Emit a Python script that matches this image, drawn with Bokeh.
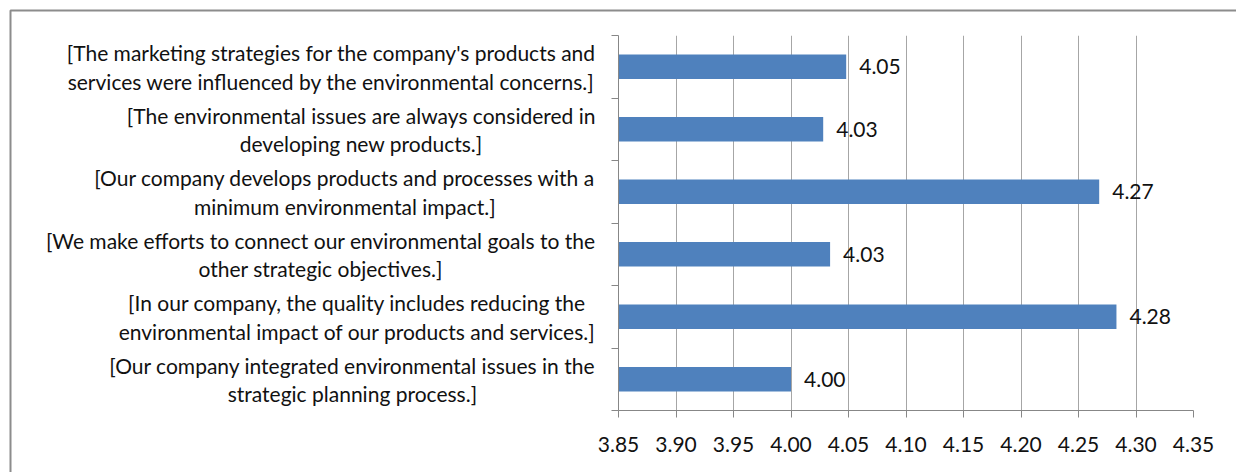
from bokeh.plotting import figure
from bokeh.models import Range1d, FixedTicker, ColumnDataSource, NumeralTickFormatter
from bokeh.core.properties import value
from bokeh.embed import file_html
from bokeh.resources import INLINE

# categories listed from top to bottom
categories = [
    "[The marketing strategies for the company's products and\nservices were influenced by the environmental concerns.]",
    "[The environmental issues are always considered in\ndeveloping new products.]",
    "[Our company develops products and processes with a\nminimum environmental impact.]",
    "[We make efforts to connect our environmental goals to the\nother strategic objectives.]",
    "[In our company, the quality includes reducing the\nenvironmental impact of our products and services.]",
    "[Our company integrated environmental issues in the\nstrategic planning process.]",
]
scores = [4.048, 4.028, 4.268, 4.034, 4.283, 4.000]
x_ticks = [3.85, 3.90, 3.95, 4.00, 4.05, 4.10, 4.15, 4.20, 4.25, 4.30, 4.35]

FONT = "Lato"
FS = "21px"
n = len(categories)
ypos = [n - i - 0.5 for i in range(n)]

src = ColumnDataSource(dict(
    y=ypos,
    score=scores,
    cat=categories,
    base=[x_ticks[0]] * n,
    lbl=["%.2f" % v for v in scores],
))

p = figure(width=1236, height=472, output_backend="svg", toolbar_location=None,
           x_range=Range1d(x_ticks[0], x_ticks[-1]), y_range=Range1d(0, n),
           min_border_left=618, min_border_right=43, min_border_top=35, min_border_bottom=62)
p.outline_line_color = None
p.background_fill_color = "white"
p.border_fill_color = "white"

# outer chart border (only the left and top sides fall inside the window);
# anchored at the bottom-right corner of the plot area, sized in screen pixels
p.rect(x=[x_ticks[-1]], y=[0], width=2366, height=800,
       width_units="screen", height_units="screen",
       fill_color=None, line_color="#8c8c8c", line_width=2, level="overlay")

p.hbar(y="y", left="base", right="score", height=0.39, source=src,
       fill_color="#4F81BD", line_color=None)

p.text(x="score", y="y", text="lbl", source=src, x_offset=13,
       text_font=value(FONT), text_font_size=FS, text_color="#111111",
       text_baseline="middle", text_align="left")

p.text(x="base", y="y", text="cat", source=src, x_offset=-23,
       anchor=value("center_right"), text_align="center", text_baseline="middle",
       text_font=value(FONT), text_font_size=FS, text_color="#111111",
       text_line_height=1.14, level="overlay")

# axes
p.xaxis.ticker = FixedTicker(ticks=x_ticks)
p.xaxis.formatter = NumeralTickFormatter(format="0.00")
p.xaxis.major_tick_out = 7
p.xaxis.major_tick_in = 0
p.xaxis.minor_tick_line_color = None
p.xaxis.axis_line_color = "#878787"
p.xaxis.major_tick_line_color = "#878787"
p.xaxis.major_label_text_font = FONT
p.xaxis.major_label_text_font_size = FS
p.xaxis.major_label_text_color = "#111111"
p.xaxis.major_label_standoff = 19

p.yaxis.ticker = FixedTicker(ticks=list(range(n + 1)))
p.yaxis.major_label_overrides = {i: "" for i in range(n + 1)}
p.yaxis.major_tick_out = 7
p.yaxis.major_tick_in = 0
p.yaxis.minor_tick_line_color = None
p.yaxis.axis_line_color = "#878787"
p.yaxis.major_tick_line_color = "#878787"

p.xgrid.ticker = FixedTicker(ticks=x_ticks)
p.xgrid.grid_line_color = "#a6a6a6"
p.ygrid.grid_line_color = None

open("out.html", "w").write(file_html(p, INLINE))
